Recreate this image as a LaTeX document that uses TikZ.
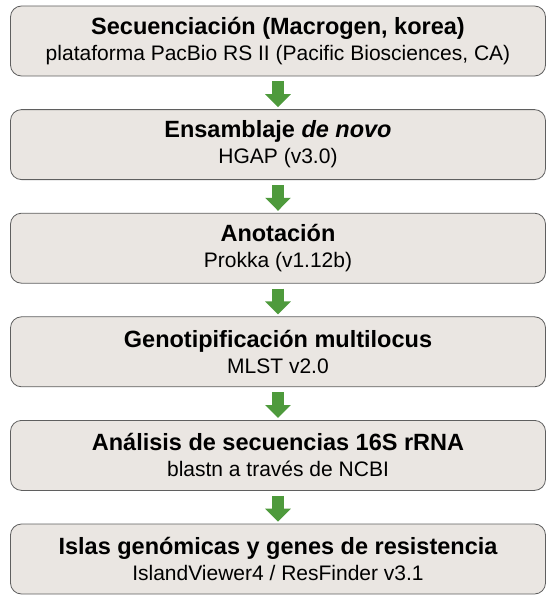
\documentclass[tikz,border=0pt]{standalone}
\usepackage{fontspec}
\setmainfont{Liberation Sans}
\usetikzlibrary{arrows.meta, positioning}
\definecolor{cajagris}{RGB}{234,230,226}
\definecolor{bordegris}{RGB}{95,95,95}
\definecolor{flechaverde}{RGB}{78,154,60}
\newcommand{\titulo}[1]{{\fontsize{23.5}{26}\selectfont\bfseries #1}}

\begin{document}
\begin{tikzpicture}[x=1pt, y=-1pt,
    etapa/.style={draw=bordegris, fill=cajagris, line width=0.8pt, rounded corners=11pt,
        minimum width=535pt, minimum height=70pt, align=center, inner sep=0pt,
        font=\fontsize{21}{26}\selectfont},
    flecha/.style={flechaverde, line width=12pt, shorten <=5pt, shorten >=2pt,
        -{Triangle[width=25pt, length=13pt]}}]
    \useasboundingbox (0,0) rectangle (556,602);
    % etapas
    \node[etapa] (secuenciacion) at (278,41) {\titulo{Secuenciación (Macrogen, korea)}\\
        plataforma PacBio RS II (Pacific Biosciences, CA)};
    \node[etapa, below=32.8pt of secuenciacion] (ensamblaje) {\titulo{Ensamblaje \textit{de novo}}\\
        HGAP (v3.0)};
    \node[etapa, below=32.8pt of ensamblaje] (anotacion) {\titulo{Anotación}\\
        Prokka (v1.12b)};
    \node[etapa, below=32.8pt of anotacion] (mlst) {\titulo{Genotipificación multilocus}\\
        MLST v2.0};
    \node[etapa, below=32.8pt of mlst] (rrna) {\titulo{Análisis de secuencias 16S rRNA}\\
        blastn a través de NCBI};
    \node[etapa, below=32.8pt of rrna] (islas) {\titulo{Islas genómicas y genes de resistencia}\\
        IslandViewer4 / ResFinder v3.1};
    % flechas
    \foreach \a/\b in {secuenciacion/ensamblaje, ensamblaje/anotacion, anotacion/mlst, mlst/rrna, rrna/islas}
        \draw[flecha] (\a.south) -- (\b.north);
\end{tikzpicture}
\end{document}
